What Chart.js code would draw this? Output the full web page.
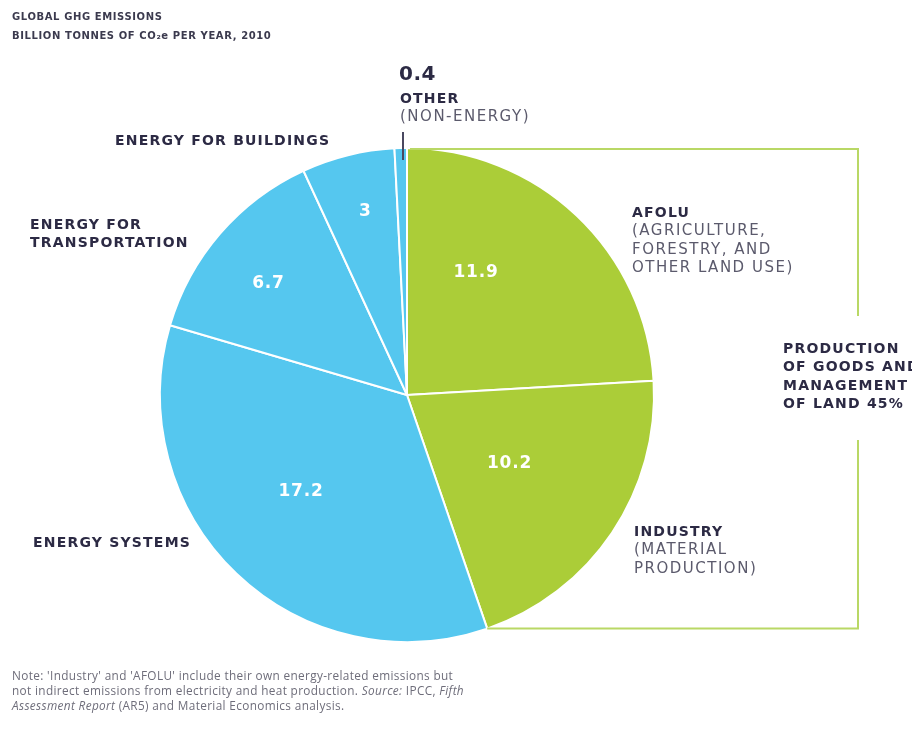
<!DOCTYPE html>
<html>
<head>
<meta charset="utf-8">
<script src="https://cdn.jsdelivr.net/npm/chart.js@4"></script>
<style>
  html, body { margin: 0; padding: 0; background: #fff; }
  #wrap { width: 912px; height: 736px; position: relative; }
</style>
</head>
<body>
<div id="wrap"><canvas id="pieChart" width="912" height="736"></canvas></div>
<script>
// emissions by sector, billion tonnes CO2e, 2010 (clockwise from 12 o'clock)
const sectors = ['AFOLU', 'Industry', 'Energy systems', 'Energy for transportation', 'Energy for buildings', 'Other (non-energy)'];
const emissions = [11.9, 10.2, 17.2, 6.7, 3, 0.4];
const sliceColors = ['#abcd38', '#abcd38', '#55c7ef', '#55c7ef', '#55c7ef', '#55c7ef'];

// where the white numbers sit inside each slice: [fraction of radius, angle shift in degrees]
const valuePlacement = [[0.57, -14], [0.5, 0], [0.58, 4], [0.72, -2], [0.76, 1], null];

const DARK = '#2c2a44';
const GREY = '#5b5a6c';
const GREEN_LINE = '#b9d865';

const callouts = [
  { x: 115, y: 141, lines: [['ENERGY FOR BUILDINGS', true]] },
  { x: 30, y: 225, lines: [['ENERGY FOR', true], ['TRANSPORTATION', true]] },
  { x: 400, y: 99, lines: [['OTHER', true], ['(NON-ENERGY)', false]] },
  { x: 632, y: 213, lines: [['AFOLU', true], ['(AGRICULTURE,', false], ['FORESTRY, AND', false], ['OTHER LAND USE)', false]] },
  { x: 783, y: 349, lines: [['PRODUCTION', true], ['OF GOODS AND', true], ['MANAGEMENT', true], ['OF LAND 45%', true]] },
  { x: 33, y: 543, lines: [['ENERGY SYSTEMS', true]] },
  { x: 634, y: 532, lines: [['INDUSTRY', true], ['(MATERIAL', false], ['PRODUCTION)', false]] }
];

const noteLines = [
  [["Note: 'Industry' and 'AFOLU' include their own energy-related emissions but", false]],
  [['not indirect emissions from electricity and heat production. ', false], ['Source: ', true], ['IPCC, ', false], ['Fifth', true]],
  [['Assessment Report', true], [' (AR5) and Material Economics analysis.', false]]
];

const annotations = {
  id: 'annotations',
  afterDatasetsDraw(chart) {
    const { ctx } = chart;
    const meta = chart.getDatasetMeta(0);
    ctx.save();

    // values inside the slices
    ctx.fillStyle = '#fff';
    ctx.font = 'bold 17px "DejaVu Sans"';
    ctx.textAlign = 'center';
    ctx.textBaseline = 'middle';
    ctx.letterSpacing = '0.8px';
    meta.data.forEach((arc, i) => {
      const p = valuePlacement[i];
      if (!p) return;
      const a = (arc.startAngle + arc.endAngle) / 2 + p[1] * Math.PI / 180;
      const r = arc.outerRadius * p[0];
      ctx.fillText(String(emissions[i]), arc.x + Math.cos(a) * r, arc.y + Math.sin(a) * r);
    });

    // bracket round the green slices
    const arc0 = meta.data[0];
    const arc1 = meta.data[1];
    const topX = arc0.x + 3;
    const topY = arc0.y - arc0.outerRadius + 1;
    const botX = arc1.x + Math.cos(arc1.endAngle) * arc1.outerRadius;
    const botY = arc1.y + Math.sin(arc1.endAngle) * arc1.outerRadius;
    ctx.strokeStyle = GREEN_LINE;
    ctx.lineWidth = 2;
    ctx.beginPath();
    ctx.moveTo(topX, topY);
    ctx.lineTo(858, topY);
    ctx.lineTo(858, 316);
    ctx.moveTo(858, 440);
    ctx.lineTo(858, botY);
    ctx.lineTo(botX, botY);
    ctx.stroke();

    // leader for the thin "other" slice
    ctx.strokeStyle = '#4a4860';
    ctx.lineWidth = 2;
    ctx.beginPath();
    ctx.moveTo(403, 132);
    ctx.lineTo(403, 160);
    ctx.stroke();

    ctx.textAlign = 'left';
    ctx.textBaseline = 'middle';

    ctx.fillStyle = DARK;
    ctx.font = 'bold 20px "DejaVu Sans"';
    ctx.letterSpacing = '0.5px';
    ctx.fillText(String(emissions[5]), 399, 75);

    callouts.forEach(c => {
      c.lines.forEach(([txt, bold], j) => {
        ctx.font = (bold ? 'bold 14px' : '15px') + ' "DejaVu Sans"';
        ctx.letterSpacing = bold ? '1.2px' : '1.5px';
        ctx.fillStyle = bold ? DARK : GREY;
        ctx.fillText(txt, c.x, c.y + j * 18.5);
      });
    });

    // heading
    ctx.fillStyle = '#3b3a4e';
    ctx.font = 'bold 10px "DejaVu Sans"';
    ctx.letterSpacing = '0.6px';
    ctx.fillText('GLOBAL GHG EMISSIONS', 12, 17);
    ctx.fillText('BILLION TONNES OF CO\u2082e PER YEAR, 2010', 12, 36);

    // note
    ctx.fillStyle = '#6e6d7a';
    ctx.letterSpacing = '0.35px';
    noteLines.forEach((parts, j) => {
      let x = 12;
      parts.forEach(([txt, italic]) => {
        ctx.font = (italic ? 'italic ' : '') + '11.8px "Open Sans"';
        ctx.fillText(txt, x, 677 + j * 15);
        x += ctx.measureText(txt).width;
      });
    });

    ctx.restore();
  }
};

new Chart(document.getElementById('pieChart'), {
  type: 'pie',
  data: {
    labels: sectors,
    datasets: [{
      data: emissions,
      backgroundColor: sliceColors,
      borderColor: '#fff',
      borderWidth: 2
    }]
  },
  options: {
    responsive: false,
    animation: false,
    radius: 247,
    layout: { padding: { left: 0, right: 98, top: 54, bottom: 0 } },
    plugins: {
      legend: { display: false },
      tooltip: { enabled: false }
    }
  },
  plugins: [annotations]
});
</script>
</body>
</html>
